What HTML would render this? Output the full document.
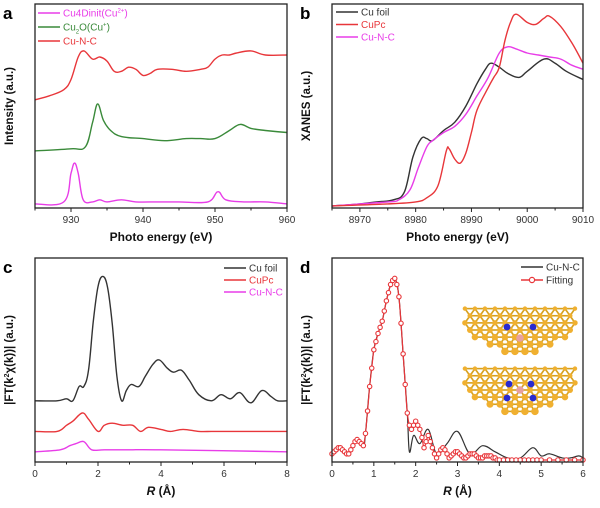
<!DOCTYPE html>
<html><head><meta charset="utf-8"><style>
html,body{margin:0;padding:0;background:#fff}
svg{display:block;font-family:"Liberation Sans",Arial,sans-serif}
</style></head><body>
<svg id="fig" width="600" height="508" viewBox="0 0 600 508" xmlns="http://www.w3.org/2000/svg"></svg>
<script>
// ---- Panel a data (XPS/LMM, energy eV) ----
const aRedX=[925,927,929,930,931,931.8,933,934,935,936,937,938,939,940,941,942,944,946,948,949,950,951,952,953,955,957,960];
const aRedY=[53,55,58,63,74,77,73,74,72,67,67,69,68,65,66,68,68,67,68,69,73,75,75,76,77,75,75];
const aGreenX=[925,930,932,933,933.7,934.5,935.5,937,940,943,946,948,950,952,953.5,955,957,960];
const aGreenY=[28,29,30,42,51,43,38,35,34,33,34,34,34,38,41,39,38,37];
const aMagX=[925,929,930,930.5,931,931.7,933,934,935,937,939,942,945,949,950.4,951.5,954,957,960];
const aMagY=[2,3,17,22,17,4,3,4,3,4,3,3,3,3,8,4,3,3,2];
const aTicks=[930,940,950,960];
// ---- Panel b data (XANES) ----
const bFoilX=[8965,8970,8973,8976,8978,8979.5,8981,8982,8983,8985,8987,8989,8991,8992.5,8993.5,8995,8996.5,8998.5,9000,9003,9005,9007,9010];
const bFoilY=[1,2,3,4,8,25,34,34,33,38,42,50,61,68,71,69,66,64,67,73,71,67,63];
const bPcX=[8965,8975,8980,8982,8984,8985.5,8986,8987,8988,8989,8990,8991,8993,8994,8995,8996,8997,8998,9000,9001.5,9003,9004,9006,9008,9010];
const bPcY=[1,2,3,5,11,28,29,24,22,27,37,48,59,64,69,82,91,95,91,90,93,94,89,81,71];
const bCnX=[8965,8975,8977,8979,8980.5,8982,8983,8985,8987,8989,8991,8993,8995,8996.5,8998,9000,9002,9004,9006,9008,9010];
const bCnY=[1,3,4,9,20,30,33,37,40,46,55,64,76,79,78,76,75,74,73,70,68];
const bTicks=[8970,8980,8990,9000,9010];
// ---- Panel c data (FT-EXAFS) ----
const cFoilX=[0,0.7,1.0,1.2,1.4,1.55,1.7,1.85,2.0,2.15,2.3,2.45,2.6,2.75,2.9,3.05,3.3,3.5,3.75,3.95,4.2,4.4,4.65,4.9,5.2,5.6,5.9,6.2,6.5,6.85,7.2,7.5,7.7,8];
const cFoilY=[30,30,31,30,37,37,45,69,86,91,86,68,42,30,35,38,37,42,48,50,46,44,45,40,33,30,33,31,34,29,35,32,30,30];
const cPcX=[0,0.7,1.0,1.2,1.5,1.7,2.0,2.2,2.45,2.8,3.1,3.35,3.6,4.0,4.3,4.7,5.2,5.6,6,7,8];
const cPcY=[15,15,18,20,24,21,15,18,19,18,18,15,17,16,15,16,15,15,15,15,15];
const cCnX=[0,0.8,1.1,1.3,1.55,1.8,2.2,3,4,8];
const cCnY=[5,6,8,9,10,6,6,6,6,5];
const cTicks=[0,2,4,6,8];
// ---- Panel d data (Cu-N-C and fitting) ----
const dExpX=[0,0.2,0.4,0.6,0.75,0.8,0.9,1.0,1.1,1.2,1.3,1.4,1.5,1.6,1.7,1.8,1.85,1.95,2.1,2.3,2.5,2.75,3.0,3.3,3.6,3.9,4.2,4.5,4.8,5.0,5.2,5.5,5.7,5.9,6];
const dExpY=[4,7,4,11,8,14,37,55,63,69,79,87,90,81,53,24,5,13,9,16,4,9,15,4,8,5,2,2,7,3,4,2,2,3,2];
const dFitX=[0,0.05,0.1,0.15,0.2,0.25,0.3,0.35,0.4,0.45,0.5,0.55,0.6,0.65,0.7,0.75,0.8,0.85,0.9,0.95,1.0,1.05,1.1,1.15,1.2,1.25,1.3,1.35,1.4,1.45,1.5,1.55,1.6,1.65,1.7,1.75,1.8,1.85,1.9,1.95,2.0,2.05,2.1,2.15,2.2,2.25,2.3,2.35,2.4,2.45,2.5,2.55,2.6,2.65,2.7,2.75,2.8,2.85,2.9,2.95,3.0,3.05,3.1,3.15,3.2,3.25,3.3,3.35,3.4,3.45,3.5,3.55,3.6,3.65,3.7,3.75,3.8,3.85,3.9,3.95,4.0,4.1,4.2,4.3,4.4,4.5,4.6,4.7,4.8,4.9,5.0,5.2,5.4,5.6,5.8,6.0];
const dFitY=[4,5,6,7,7,6,5,4,4,6,8,10,11,10,9,8,14,25,37,46,55,59,63,66,69,74,79,83,87,89,90,87,81,68,53,38,24,18,16,18,20,18,16,12,7,10,13,10,7,4,2,4,6,7,6,4,2,3,4,5,5,4,3,2,2,3,4,4,4,3,2,2,2,3,3,3,3,2,2,1,1,1,1,1,1,1,1,1,1,1,1,1,1,1,1,1];
const dTicks=[0,1,2,3,4,5,6];

const NS='http://www.w3.org/2000/svg';
const svg=document.getElementById('fig');
function mk(tag,attrs,parent,txt){const e=document.createElementNS(NS,tag);for(const k in attrs)e.setAttribute(k,attrs[k]);if(txt!==undefined)e.textContent=txt;(parent||svg).appendChild(e);return e;}

function panel(o){
  const g=mk('g',{});
  
  
  const sx=v=>o.x0+(v-o.xmin)/(o.xmax-o.xmin)*(o.x1-o.x0);
  const sy=v=>o.y1-v/100*(o.y1-o.y0);
  o.sx=sx;o.sy=sy;o.g=g;
  const step=o.ticks[1]-o.ticks[0];
  for(let t=o.xmin;t<=o.xmax+1e-9;t+=step/2){
    const major=o.ticks.some(v=>Math.abs(v-t)<1e-6);
    const tk=mk('line',{x1:sx(t),x2:sx(t),y1:o.y1,y2:o.y1+(major?4:2.5),stroke:'#222','stroke-width':1},g);
    
    
  }
  o.ticks.forEach(t=>{
    const l=mk('text',{x:sx(t),y:o.y1+15,'font-size':10,'text-anchor':'middle',fill:'#333'},g,String(t));
    
    
  });
  const xt=mk('text',{x:(o.x0+o.x1)/2,y:o.y1+33,'font-size':12,'font-weight':'bold','text-anchor':'middle',fill:'#111'},g);
  
  
  xt.innerHTML=o.xtitle;
  const yt=mk('text',{transform:`translate(${o.x0-22},${(o.y0+o.y1)/2}) rotate(-90)`,'font-size':11.5,'font-weight':'bold','text-anchor':'middle',fill:'#111'},g);
  
  
  yt.innerHTML=o.ytitle;
  const lt=mk('text',{x:o.x0-32,y:o.y0+15,'font-size':17,'font-weight':'bold',fill:'#000'},g,o.letter);
  
  
  return o;
}
function frame(o){
  const r=mk('rect',{x:o.x0,y:o.y0,width:o.x1-o.x0,height:o.y1-o.y0,fill:'none',stroke:'#222','stroke-width':1.3},o.g);
  
  
}
function smoothPath(P){
  let d='M'+P[0][0].toFixed(1)+','+P[0][1].toFixed(1);
  for(let i=0;i<P.length-1;i++){
    const p0=P[Math.max(0,i-1)],p1=P[i],p2=P[i+1],p3=P[Math.min(P.length-1,i+2)];
    const t=0.18;
    const c1x=p1[0]+(p2[0]-p0[0])*t, c1y=p1[1]+(p2[1]-p0[1])*t;
    const c2x=p2[0]-(p3[0]-p1[0])*t, c2y=p2[1]-(p3[1]-p1[1])*t;
    d+=` C${c1x.toFixed(1)},${c1y.toFixed(1)} ${c2x.toFixed(1)},${c2y.toFixed(1)} ${p2[0].toFixed(1)},${p2[1].toFixed(1)}`;
  }
  return d;
}
function line(o,xs,ys,color,name,w){
  const P=xs.map((x,i)=>[o.sx(x),o.sy(ys[i])]);
  const p=mk('path',{d:smoothPath(P),fill:'none',stroke:color,'stroke-width':w||1.4,'stroke-linejoin':'round'},o.g);
  
  
}
function legend(o,x,y,items,dy){
  items.forEach((it,i)=>{
    const yy=y+i*dy;
    const l=mk('line',{x1:x,x2:x+22,y1:yy,y2:yy,stroke:it.c,'stroke-width':1.6},o.g);
    
    
    if(it.m){const c=mk('circle',{cx:x+11,cy:yy,r:2.6,fill:'#fff',stroke:it.c,'stroke-width':1.2},o.g);
      
      }
    const t=mk('text',{x:x+25,y:yy+3.5,'font-size':10,fill:it.tc||it.c},o.g);
    
    
    t.innerHTML=it.t;
  });
}
const RED='#e8363a',GRN='#3a8a3a',MAG='#e83de8',BLK='#333';

const A=panel({name:'panel-a',letter:'a',x0:35,x1:287,y0:4,y1:208,xmin:925,xmax:960,ticks:aTicks,xtitle:'Photo energy (eV)',ytitle:'Intensity (a.u.)'});
line(A,aRedX,aRedY,RED,'series-cu-n-c');
line(A,aGreenX,aGreenY,GRN,'series-cu2o');
line(A,aMagX,aMagY,MAG,'series-cu4dinit');
frame(A);
legend(A,38,13,[{c:MAG,t:'Cu4Dinit(Cu<tspan font-size="6" dy="-4">2+</tspan><tspan dy="4">)</tspan>'},{c:GRN,t:'Cu<tspan font-size="6" dy="3">2</tspan><tspan dy="-3">O(Cu</tspan><tspan font-size="6" dy="-4">+</tspan><tspan dy="4">)</tspan>'},{c:RED,t:'Cu-N-C'}],14);

const B=panel({name:'panel-b',letter:'b',x0:332,x1:583,y0:4,y1:208,xmin:8965,xmax:9010,ticks:bTicks,xtitle:'Photo energy (eV)',ytitle:'XANES (a.u.)'});
line(B,bFoilX,bFoilY,BLK,'series-cu-foil');
line(B,bCnX,bCnY,MAG,'series-cu-n-c');
line(B,bPcX,bPcY,RED,'series-cupc');
frame(B);
legend(B,336,12,[{c:BLK,t:'Cu foil'},{c:RED,t:'CuPc'},{c:MAG,t:'Cu-N-C'}],12.5);

const C=panel({name:'panel-c',letter:'c',x0:35,x1:287,y0:258,y1:462,xmin:0,xmax:8,ticks:cTicks,xtitle:'<tspan font-style="italic">R</tspan> (Å)',ytitle:'|FT(k<tspan font-size="7" dy="-4">2</tspan><tspan dy="4">χ(k))| (a.u.)</tspan>'});
line(C,cFoilX,cFoilY,BLK,'series-cu-foil');
line(C,cPcX,cPcY,RED,'series-cupc');
line(C,cCnX,cCnY,MAG,'series-cu-n-c');
frame(C);
legend(C,224,268,[{c:BLK,t:'Cu foil',tc:'#333'},{c:RED,t:'CuPc'},{c:MAG,t:'Cu-N-C'}],12);

const D=panel({name:'panel-d',letter:'d',x0:332,x1:583,y0:258,y1:462,xmin:0,xmax:6,ticks:dTicks,xtitle:'<tspan font-style="italic">R</tspan> (Å)',ytitle:'|FT(k<tspan font-size="7" dy="-4">2</tspan><tspan dy="4">χ(k))| (a.u.)</tspan>'});
line(D,dExpX,dExpY,BLK,'series-cu-n-c',1.2);
line(D,dFitX,dFitY,RED,'series-fitting',1.2);
dFitX.forEach((x,i)=>{
  const c=mk('circle',{cx:D.sx(x),cy:D.sy(dFitY[i]),r:2.2,fill:'#fff',stroke:RED,'stroke-width':1.1},D.g);
  
  
});
frame(D);
legend(D,521,267,[{c:BLK,t:'Cu-N-C',tc:'#333'},{c:RED,t:'Fitting',tc:'#333',m:1}],13);

function molecule(cx,cy,name,planar){
  const g=mk('g',{},D.g);
  
  
  const pts=[];
  const s=11.5;
  for(let r=-3;r<=3;r++)for(let c=-6;c<=6;c++){
    const x=cx+c*s*0.87+(Math.abs(r)%2?s*0.43:0), y=cy+r*s*0.62;
    const dx=(x-cx)/58, dy=(y-(cy-20))/44;
    if(dx*dx+dy*dy<=1 && y>=cy-22) pts.push([x,y]);
  }
  pts.forEach((p,i)=>pts.forEach((q,j)=>{if(j>i){const d=Math.hypot(p[0]-q[0],p[1]-q[1]);if(d<s*1.02){
    const b=mk('line',{x1:p[0],y1:p[1],x2:q[0],y2:q[1],stroke:'#d4a020','stroke-width':1.6},g);
    
    }}}));
  pts.forEach(p=>{const rr=2.2+(p[1]-cy+22)/44*1.6;const a=mk('circle',{cx:p[0],cy:p[1],r:rr,fill:'#f0b030'},g);
    
    });
  const Ns=planar?[[-11,-6],[11,-6],[-13,8],[13,8]]:[[-13,-3],[13,-3]];
  Ns.forEach(n=>{const a=mk('circle',{cx:cx+n[0],cy:cy+n[1],r:3.4,fill:'#2a2ad0'},g);
    
    });
  const cu=mk('circle',{cx:cx,cy:cy+(planar?0:8),r:3.8,fill:'#e8a0a0'},g);
  
  
}
molecule(520,330,'cu-n2-structure',false);
molecule(520,390,'cu-n4-structure',true);
</script>
</body></html>
